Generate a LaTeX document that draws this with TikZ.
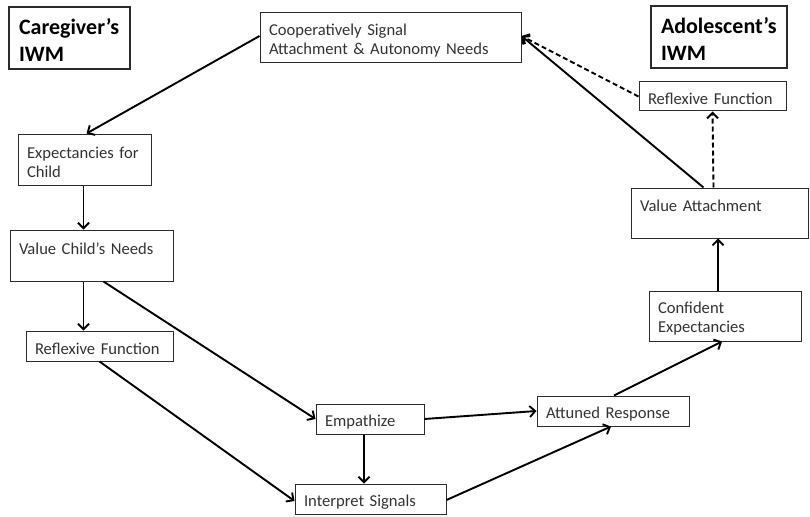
\documentclass[tikz,border=0pt]{standalone}
\usepackage{fontspec}
\setmainfont{Carlito}
\usetikzlibrary{arrows.meta,calc}
\definecolor{ink}{HTML}{2B2B2B}
\definecolor{txt}{HTML}{333333}
\tikzset{
  box/.style={draw=ink, line width=1pt, rectangle, inner xsep=9pt, inner ysep=2pt,
     align=left, text=txt, text height=17pt, font=\fontsize{16.6}{19.5}\selectfont},
  title/.style={draw=ink, line width=1.2pt, rectangle, inner xsep=10pt, inner ysep=2pt,
     align=left, text=black, text height=20pt, font=\fontsize{22}{26.5}\selectfont\bfseries},
  arr/.style={draw=black, line width=1.9pt, -{Straight Barb[length=5.5pt,width=11pt]}},
  darr/.style={arr, dash pattern=on 5pt off 3pt}
}
\begin{document}
\begin{tikzpicture}[x=1pt,y=-1pt]
\useasboundingbox (0,0) rectangle (810,516);
% titles
\node[title, minimum width=121pt, minimum height=62pt, text width=101pt] (cg) at (69.5,38) {Caregiver’s\\IWM};
\node[title, minimum width=136pt, minimum height=62pt, text width=116pt] (ad) at (719,37) {Adolescent’s\\IWM};
% boxes
\node[box, minimum width=261pt, minimum height=50pt, text width=243pt] (coop) at (390.5,38) {Cooperatively Signal\\Attachment \& Autonomy Needs};
\node[box, minimum width=147pt, minimum height=29pt, text width=129pt] (rrf) at (712.5,96.5) {Reflexive Function};
\node[box, minimum width=177pt, minimum height=50pt, text width=159pt] (va) at (719.5,213) {Value Attachment\\\mbox{}};
\node[box, minimum width=133pt, minimum height=51pt, text width=115pt] (exp) at (84.5,159.5) {Expectancies for\\Child};
\node[box, minimum width=163pt, minimum height=51pt, text width=145pt] (vcn) at (91.5,255.5) {Value Child’s Needs\\\mbox{}};
\node[box, minimum width=147pt, minimum height=30pt, text width=129pt] (rfl) at (99.5,346) {Reflexive Function};
\node[box, minimum width=108pt, minimum height=30pt, text width=90pt] (emp) at (370,419) {Empathize};
\node[box, minimum width=152pt, minimum height=30pt, text width=134pt] (att) at (613,411) {Attuned Response};
\node[box, minimum width=151pt, minimum height=30pt, text width=133pt] (isig) at (370.5,499) {Interpret Signals};
\node[box, minimum width=152pt, minimum height=50pt, text width=134pt] (conf) at (725,316) {Confident\\Expectancies};
% connectors
\draw[arr] ([yshift=2pt]coop.west) -- ([xshift=2pt]exp.north);
\draw[arr] ([xshift=-1pt]exp.south) -- ([xshift=-1pt]exp.south |- vcn.north);
\draw[arr] ([xshift=-1pt]exp.south |- vcn.south) -- ([xshift=-1pt]exp.south |- rfl.north);
\draw[arr] ([xshift=12pt]vcn.south) -- (emp.west);
\draw[arr] (rfl.south) -- ([yshift=-2pt]isig.west);
\draw[arr] ([xshift=-6pt]emp.south) -- ([xshift=-6pt]emp.south |- isig.north);
\draw[arr] (emp.east) -- (att.west);
\draw[arr] ([yshift=-1pt]isig.east) -- ([xshift=-2pt]att.south);
\draw[arr] ([xshift=1pt]att.north) -- ([xshift=-3pt]conf.south);
\draw[arr] ([xshift=-7pt]conf.north) -- ([xshift=-7pt]conf.north |- va.south);
\draw[arr] ([xshift=-16pt]va.north) -- ([yshift=2pt]coop.east);
\draw[darr] ([xshift=-6pt]va.north) -- (rrf.south);
\draw[darr] (rrf.west) -- ([yshift=2pt]coop.east);
\end{tikzpicture}
\end{document}
